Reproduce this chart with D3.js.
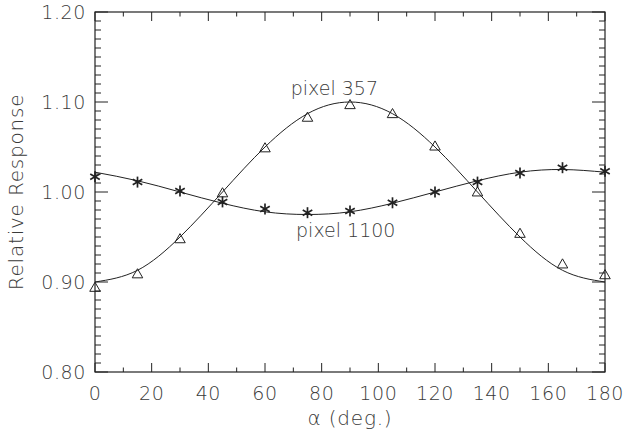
<!DOCTYPE html>
<html>
<head>
<meta charset="utf-8">
<script src="https://cdn.jsdelivr.net/npm/d3@7"></script>
<style>
  body { margin: 0; background: #fff; }
  text { font-family: "DejaVu Sans", sans-serif; font-weight: 200; fill: #3a3a3a; }
</style>
</head>
<body>
<div id="chart"></div>
<script>
// measured angles and responses
const angles = [0, 15, 30, 45, 60, 75, 90, 105, 120, 135, 150, 165, 180];
const pixel357 = [0.893, 0.908, 0.947, 0.998, 1.048, 1.082, 1.096, 1.086, 1.050, 0.999, 0.953, 0.919, 0.907];
const pixel1100 = [1.017, 1.011, 1.001, 0.989, 0.981, 0.977, 0.979, 0.988, 1.000, 1.011, 1.021, 1.027, 1.023];
// fitted curves
const fit357 = [0.900, 0.913, 0.950, 1.000, 1.050, 1.087, 1.100, 1.087, 1.050, 1.000, 0.950, 0.913, 0.900];
const fit1100 = [1.022, 1.0125, 1.000, 0.9875, 0.978, 0.975, 0.978, 0.9875, 1.000, 1.0125, 1.022, 1.025, 1.022];
const xTicks = [0, 20, 40, 60, 80, 100, 120, 140, 160, 180];
const yTicks = [0.80, 0.90, 1.00, 1.10, 1.20];

const W = 626, H = 431;
const m = { left: 95, right: 21, top: 12, bottom: 59 };
const iw = W - m.left - m.right, ih = H - m.top - m.bottom;

const svg = d3.select("#chart").append("svg")
  .attr("width", W).attr("height", H);

const x = d3.scaleLinear().domain([0, 180]).range([m.left, m.left + iw]);
const y = d3.scaleLinear().domain([0.8, 1.2]).range([m.top + ih, m.top]);

const ink = "#222";
const g = svg.append("g");

// frame
g.append("rect")
  .attr("x", m.left).attr("y", m.top).attr("width", iw).attr("height", ih)
  .attr("fill", "none").attr("stroke", ink).attr("stroke-width", 1.2);

// x ticks (bottom and top), minor every 10
const xMinor = d3.range(0, 181, 10);
xMinor.forEach(v => {
  const len = v % 20 === 0 ? 9 : 4.5;
  g.append("line").attr("x1", x(v)).attr("x2", x(v))
    .attr("y1", m.top + ih).attr("y2", m.top + ih - len).attr("stroke", ink);
  g.append("line").attr("x1", x(v)).attr("x2", x(v))
    .attr("y1", m.top).attr("y2", m.top + len).attr("stroke", ink);
});
// y ticks (left and right), minor every 0.01
const yMinor = d3.range(0, 41).map(i => 0.8 + i * 0.01);
yMinor.forEach((v, i) => {
  const len = i % 10 === 0 ? 13 : 6;
  g.append("line").attr("y1", y(v)).attr("y2", y(v))
    .attr("x1", m.left).attr("x2", m.left + len).attr("stroke", ink);
  g.append("line").attr("y1", y(v)).attr("y2", y(v))
    .attr("x1", m.left + iw).attr("x2", m.left + iw - len).attr("stroke", ink);
});

// tick labels
g.selectAll(".xl").data(xTicks).enter().append("text")
  .attr("x", d => x(d)).attr("y", m.top + ih + 28)
  .attr("text-anchor", "middle").attr("font-size", 19)
  .attr("letter-spacing", 0.6)
  .text(d => d);
g.selectAll(".yl").data(yTicks).enter().append("text")
  .attr("x", m.left - 9).attr("y", d => y(d) + 7)
  .attr("text-anchor", "end").attr("font-size", 19)
  .attr("letter-spacing", 0.6)
  .text(d => d.toFixed(2));

// axis titles
svg.append("text")
  .attr("x", x(90)).attr("y", 425)
  .attr("text-anchor", "middle").attr("font-size", 20)
  .attr("letter-spacing", 0.8)
  .text("α (deg.)");
svg.append("text")
  .attr("transform", `translate(23,${y(1.0)}) rotate(-90)`)
  .attr("text-anchor", "middle").attr("font-size", 20)
  .attr("letter-spacing", 0.8)
  .text("Relative Response");

// fitted curves
const line = d3.line().x(d => x(d[0])).y(d => y(d[1])).curve(d3.curveNatural);
[fit357, fit1100].forEach(f => {
  g.append("path")
    .datum(angles.map((a, i) => [a, f[i]]))
    .attr("d", line).attr("fill", "none")
    .attr("stroke", ink).attr("stroke-width", 1);
});

// triangles for pixel 357
const tri = d3.symbol().type(d3.symbolTriangle).size(48);
g.selectAll(".tri").data(angles.map((a, i) => [a, pixel357[i]])).enter()
  .append("path")
  .attr("d", tri)
  .attr("transform", d => `translate(${x(d[0])},${y(d[1])})`)
  .attr("fill", "none").attr("stroke", ink).attr("stroke-width", 1);

// asterisks for pixel 1100
const star = g.selectAll(".star").data(angles.map((a, i) => [a, pixel1100[i]])).enter()
  .append("g")
  .attr("transform", d => `translate(${x(d[0])},${y(d[1])})`);
[0, 60, 120].forEach(r => {
  star.append("line")
    .attr("x1", 0).attr("y1", -5.5).attr("x2", 0).attr("y2", 5.5)
    .attr("transform", `rotate(${r})`)
    .attr("stroke", ink).attr("stroke-width", 1.7);
});

// series labels
g.append("text").attr("x", x(84.5)).attr("y", 95)
  .attr("text-anchor", "middle").attr("font-size", 19).text("pixel 357");
g.append("text").attr("x", x(88.5)).attr("y", 237)
  .attr("text-anchor", "middle").attr("font-size", 19).text("pixel 1100");
</script>
</body>
</html>
